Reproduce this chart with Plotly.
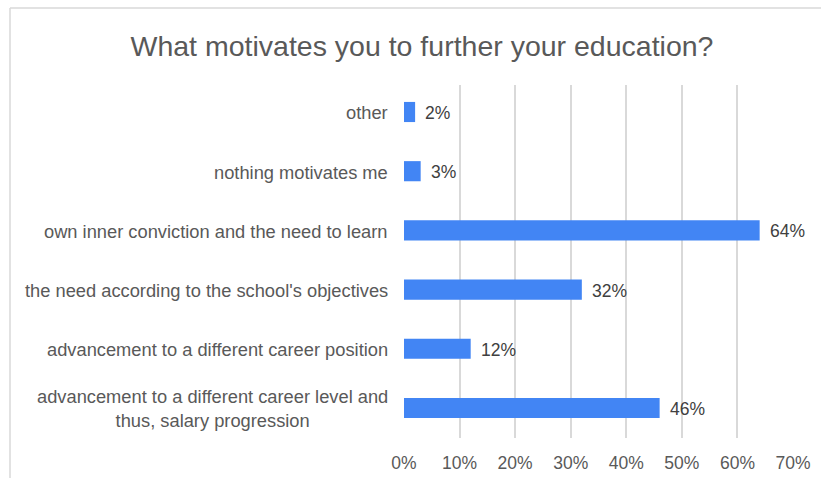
import plotly.graph_objects as go

categories = [
    "advancement to a different career level and<br>thus, salary progression",
    "advancement to a different career position",
    "the need according to the school's objectives",
    "own inner conviction and the need to learn",
    "nothing motivates me",
    "other",
]
values = [46, 12, 32, 64, 3, 2]
tick_vals = [0, 10, 20, 30, 40, 50, 60, 70]
tick_text = [f"{v}%" for v in tick_vals]

FONT = "Liberation Sans, Arial, sans-serif"
GREY_TEXT = "#595959"

fig = go.Figure()
fig.add_trace(go.Bar(
    y=list(range(len(categories))),
    x=values,
    orientation="h",
    width=0.34,
    marker=dict(color="#4285F4", line=dict(width=0)),
    hoverinfo="skip",
))

annotations = []
# value labels to the right of each bar
for i, v in enumerate(values):
    annotations.append(dict(
        x=v, y=i, xref="x", yref="y", text=f"{v}%", showarrow=False,
        xanchor="left", xshift=8, yshift=-1,
        font=dict(family=FONT, size=17.5, color="#404040"),
    ))
# category labels, centred line by line
for i, c in enumerate(categories):
    annotations.append(dict(
        x=0, y=i, xref="paper", yref="y", text=c, showarrow=False,
        xanchor="right", align="center", xshift=-14, yshift=-1,
        font=dict(family=FONT, size=18.3, color=GREY_TEXT),
    ))

fig.update_layout(
    width=821, height=478,
    margin=dict(l=404, r=28, t=85, b=40),
    paper_bgcolor="white", plot_bgcolor="white",
    showlegend=False,
    title=dict(
        text="What motivates you to further your education?",
        x=0.514, xanchor="center", xref="container",
        y=0.903, yanchor="middle", yref="container",
        font=dict(family=FONT, size=28.5, color=GREY_TEXT),
    ),
    xaxis=dict(
        range=[0, 70], tickvals=tick_vals, ticktext=tick_text,
        showgrid=True, gridcolor="#d9d9d9", gridwidth=1.5,
        zeroline=False, showline=False, automargin=False,
        ticks="outside", ticklen=9, tickcolor="rgba(0,0,0,0)",
        tickfont=dict(family=FONT, size=17.5, color=GREY_TEXT),
        fixedrange=True,
    ),
    yaxis=dict(
        range=[-0.507, 5.456], showticklabels=False, showgrid=False,
        zeroline=False, showline=False, ticks="", fixedrange=True,
        automargin=False,
    ),
    annotations=annotations,
    shapes=[
        # outer frame of the chart area (top and left edges)
        dict(type="line", xref="paper", yref="paper",
             x0=(10 - 404) / 389, x1=(821 - 404) / 389 + 0.1,
             y0=1 + (85 - 8) / 353, y1=1 + (85 - 8) / 353,
             line=dict(color="#d9d9d9", width=1.5)),
        dict(type="line", xref="paper", yref="paper",
             x0=(10 - 404) / 389, x1=(10 - 404) / 389,
             y0=-0.2, y1=1 + (85 - 8) / 353,
             line=dict(color="#d9d9d9", width=1.5)),
    ],
)

fig.write_html("out.html")
